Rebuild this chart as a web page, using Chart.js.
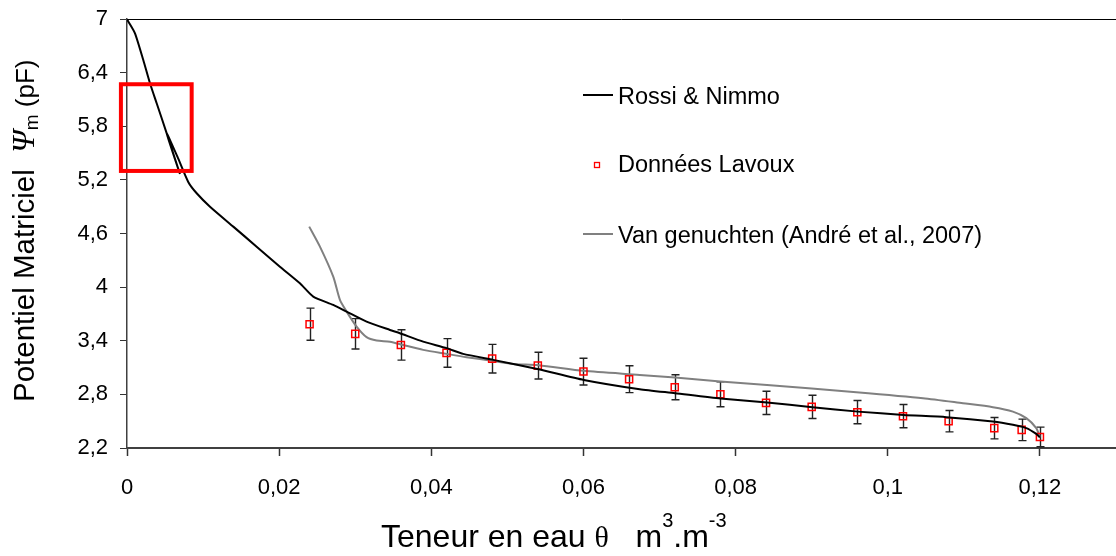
<!DOCTYPE html>
<html>
<head>
<meta charset="utf-8">
<script src="https://cdn.jsdelivr.net/npm/chart.js@4/dist/chart.umd.min.js"></script>
<style>
  html, body { margin: 0; padding: 0; background: #fff; }
  #wrap { width: 1116px; height: 556px; }
</style>
</head>
<body>
<div id="wrap"><canvas id="c" width="1116" height="556"></canvas></div>
<script>
// Axis ticks
const xTicks = [0, 0.02, 0.04, 0.06, 0.08, 0.1, 0.12];
const yTicks = [2.2, 2.8, 3.4, 4, 4.6, 5.2, 5.8, 6.4, 7];

// Rossi & Nimmo model curve (θ, pF)
const rossiTheta = [0, 0.00013, 0.00105, 0.00214, 0.00302, 0.0039, 0.00522, 0.00696, 0.00522, 0.00664,
  0.00805, 0.00916, 0.01091, 0.01397, 0.01704, 0.0201, 0.02273, 0.02448, 0.02711, 0.02887,
  0.03149, 0.03456, 0.03587, 0.03893, 0.04201, 0.04419, 0.04813, 0.05409, 0.06004, 0.0674,
  0.07204, 0.078, 0.08413, 0.0901, 0.09608, 0.10209, 0.1077, 0.11382, 0.11645, 0.11821,
  0.11952, 0.12];
const rossiPF = [7, 6.978, 6.84, 6.541, 6.281, 6.057, 5.721, 5.266, 5.721, 5.457,
  5.177, 5.05, 4.9, 4.677, 4.453, 4.229, 4.043, 3.894, 3.801, 3.726,
  3.614, 3.521, 3.484, 3.39, 3.317, 3.253, 3.186, 3.082, 2.962, 2.858,
  2.813, 2.753, 2.708, 2.657, 2.607, 2.57, 2.545, 2.496, 2.459, 2.422,
  2.358, 2.32];

// Van Genuchten curve (André et al., 2007)
const vgTheta = [0.02395, 0.02536, 0.02711, 0.02799, 0.02887, 0.03018, 0.03149, 0.03281, 0.03456, 0.0363,
  0.03893, 0.04201, 0.04463, 0.04813, 0.05076, 0.05409, 0.06004, 0.0674, 0.07204, 0.078,
  0.08413, 0.09587, 0.10463, 0.10988, 0.11382, 0.11645, 0.11821, 0.11952, 0.12];
const vgPF = [4.677, 4.453, 4.117, 3.857, 3.726, 3.558, 3.44, 3.402, 3.39, 3.353,
  3.298, 3.253, 3.216, 3.174, 3.141, 3.126, 3.063, 3.018, 2.988, 2.943,
  2.906, 2.824, 2.757, 2.701, 2.657, 2.607, 2.534, 2.422, 2.32];

// Lavoux measurements with their uncertainty
const lavouxTheta = [0.024, 0.03, 0.036, 0.042, 0.048, 0.054, 0.06, 0.066, 0.072, 0.078,
  0.084, 0.09, 0.096, 0.102, 0.108, 0.114, 0.1176, 0.12];
const lavouxPF = [3.585, 3.477, 3.353, 3.264, 3.2, 3.122, 3.055, 2.97, 2.88, 2.802,
  2.705, 2.66, 2.601, 2.556, 2.5, 2.422, 2.403, 2.324];
const lavouxErr = [0.18, 0.17, 0.17, 0.16, 0.16, 0.15, 0.15, 0.15, 0.14, 0.14,
  0.13, 0.13, 0.13, 0.13, 0.12, 0.12, 0.12, 0.11];

// Highlighted region of the dry end (θ range, pF range)
const focusTheta = [-0.0008, 0.0085];
const focusPF = [5.3, 6.27];

const FONT = "'Liberation Sans', Arial, sans-serif";
const toPts = (xs, ys) => xs.map((x, i) => ({ x, y: ys[i] }));
const frNum = v => String(Number(v.toFixed(3))).replace('.', ',');
const noLabelPadding = s => { s.paddingTop = 0; s.paddingBottom = 0; s.paddingLeft = 0; s.paddingRight = 0; };

const errorBars = {
  id: 'errorBars',
  beforeDatasetsDraw(chart) {
    const { ctx, scales: { x, y } } = chart;
    ctx.save();
    ctx.strokeStyle = '#222';
    ctx.lineWidth = 1.4;
    lavouxTheta.forEach((t, i) => {
      const px = Math.round(x.getPixelForValue(t)) + 0.5;
      const top = y.getPixelForValue(lavouxPF[i] + lavouxErr[i]);
      const bot = y.getPixelForValue(lavouxPF[i] - lavouxErr[i]);
      ctx.beginPath();
      ctx.moveTo(px, top); ctx.lineTo(px, bot);
      ctx.moveTo(px - 4, top); ctx.lineTo(px + 4, top);
      ctx.moveTo(px - 4, bot); ctx.lineTo(px + 4, bot);
      ctx.stroke();
    });
    ctx.restore();
  }
};

const focusBox = {
  id: 'focusBox',
  afterDraw(chart) {
    const { ctx, scales: { x, y } } = chart;
    const l = x.getPixelForValue(focusTheta[0]);
    const r = x.getPixelForValue(focusTheta[1]);
    const t = y.getPixelForValue(focusPF[1]);
    const b = y.getPixelForValue(focusPF[0]);
    ctx.save();
    ctx.strokeStyle = '#ff0000';
    ctx.lineWidth = 4;
    ctx.strokeRect(l, t, r - l, b - t);
    ctx.restore();
  }
};

const sideLegend = {
  id: 'sideLegend',
  afterDraw(chart) {
    const { ctx } = chart;
    const ds = chart.data.datasets;
    const rows = [
      { d: ds[0], base: 104, mid: 95 },
      { d: ds[1], base: 172, mid: 165 },
      { d: ds[2], base: 243, mid: 234 }
    ];
    ctx.save();
    rows.forEach(r => {
      ctx.strokeStyle = r.d.borderColor;
      if (r.d.showLine) {
        ctx.lineWidth = r.d.borderWidth;
        ctx.beginPath();
        ctx.moveTo(583, r.mid); ctx.lineTo(613, r.mid);
        ctx.stroke();
      } else {
        ctx.lineWidth = 1.3;
        ctx.strokeRect(594.5, r.mid - 2.5, 5, 5);
      }
      ctx.fillStyle = '#000';
      ctx.font = '23.5px ' + FONT;
      ctx.textBaseline = 'alphabetic';
      ctx.textAlign = 'left';
      ctx.fillText(r.d.label, 618, r.base);
    });
    ctx.restore();
  }
};

const axisTitles = {
  id: 'axisTitles',
  afterDraw(chart) {
    const { ctx } = chart;
    ctx.save();
    ctx.fillStyle = '#000';
    ctx.textBaseline = 'alphabetic';
    ctx.textAlign = 'left';

    // x title: Teneur en eau θ   m³.m⁻³
    let cx = 381;
    const by = 547;
    const put = (txt, font, dy) => {
      ctx.font = font;
      ctx.fillText(txt, cx, by + (dy || 0));
      cx += ctx.measureText(txt).width;
    };
    put('Teneur en eau ', '32px ' + FONT);
    put('θ', "30px 'Liberation Serif', serif");
    put('   m', '32px ' + FONT);
    put('3', '20px ' + FONT, -20);
    put('.m', '32px ' + FONT);
    put('-3', '20px ' + FONT, -20);

    // y title, rotated: Potentiel Matriciel Ψm (pF)
    ctx.translate(34, 402);
    ctx.rotate(-Math.PI / 2);
    let d = 0;
    const putR = (txt, font, dy) => {
      ctx.font = font;
      ctx.fillText(txt, d, dy || 0);
      d += ctx.measureText(txt).width;
    };
    putR('Potentiel Matriciel  ', '29.5px ' + FONT);
    putR('Ψ', "italic 32px 'Liberation Serif', serif");
    putR('m', '19px ' + FONT, 4);
    putR(' (pF)', '26px ' + FONT);
    ctx.restore();
  }
};

new Chart(document.getElementById('c'), {
  type: 'scatter',
  data: {
    datasets: [
      {
        label: 'Rossi & Nimmo',
        data: toPts(rossiTheta, rossiPF),
        showLine: true, borderColor: '#000000', borderWidth: 2,
        pointRadius: 0, tension: 0.2
      },
      {
        label: 'Données Lavoux',
        data: toPts(lavouxTheta, lavouxPF),
        showLine: false, pointStyle: 'rect', pointRadius: 5,
        borderColor: '#ff0000', backgroundColor: 'rgba(0,0,0,0)', pointBorderWidth: 1.5
      },
      {
        label: 'Van genuchten (André et al., 2007)',
        data: toPts(vgTheta, vgPF),
        showLine: true, borderColor: '#808080', borderWidth: 2,
        pointRadius: 0, tension: 0.25
      }
    ]
  },
  options: {
    responsive: false,
    animation: false,
    devicePixelRatio: 1,
    layout: { autoPadding: false, padding: { top: 19, right: 0, bottom: 0, left: 0 } },
    plugins: { legend: { display: false }, tooltip: { enabled: false } },
    scales: {
      x: {
        type: 'linear', min: 0, max: 0.13,
        afterBuildTicks: s => { s.ticks = xTicks.map(v => ({ value: v })); },
        afterFit: s => { s.height = 108; noLabelPadding(s); },
        grid: { drawOnChartArea: false, drawTicks: true, tickLength: 8, tickColor: '#333', tickWidth: 1.5 },
        border: { color: '#404040', width: 2 },
        ticks: { color: '#000', font: { family: FONT, size: 22 }, padding: 19, maxRotation: 0, autoSkip: false,
                 callback: v => frNum(v) }
      },
      y: {
        type: 'linear', min: 2.2, max: 7,
        afterBuildTicks: s => { s.ticks = yTicks.map(v => ({ value: v })); },
        afterFit: s => { s.width = 127; noLabelPadding(s); },
        grid: {
          color: c => (c.tick && Math.abs(c.tick.value - 7) < 1e-9) ? '#000' : 'rgba(0,0,0,0)',
          tickColor: '#333', tickLength: 7, lineWidth: 1
        },
        border: { color: '#404040', width: 1.5 },
        ticks: { color: '#000', font: { family: FONT, size: 22 }, padding: 12, autoSkip: false,
                 callback: v => frNum(v) }
      }
    }
  },
  plugins: [errorBars, focusBox, sideLegend, axisTitles]
});
</script>
</body>
</html>
